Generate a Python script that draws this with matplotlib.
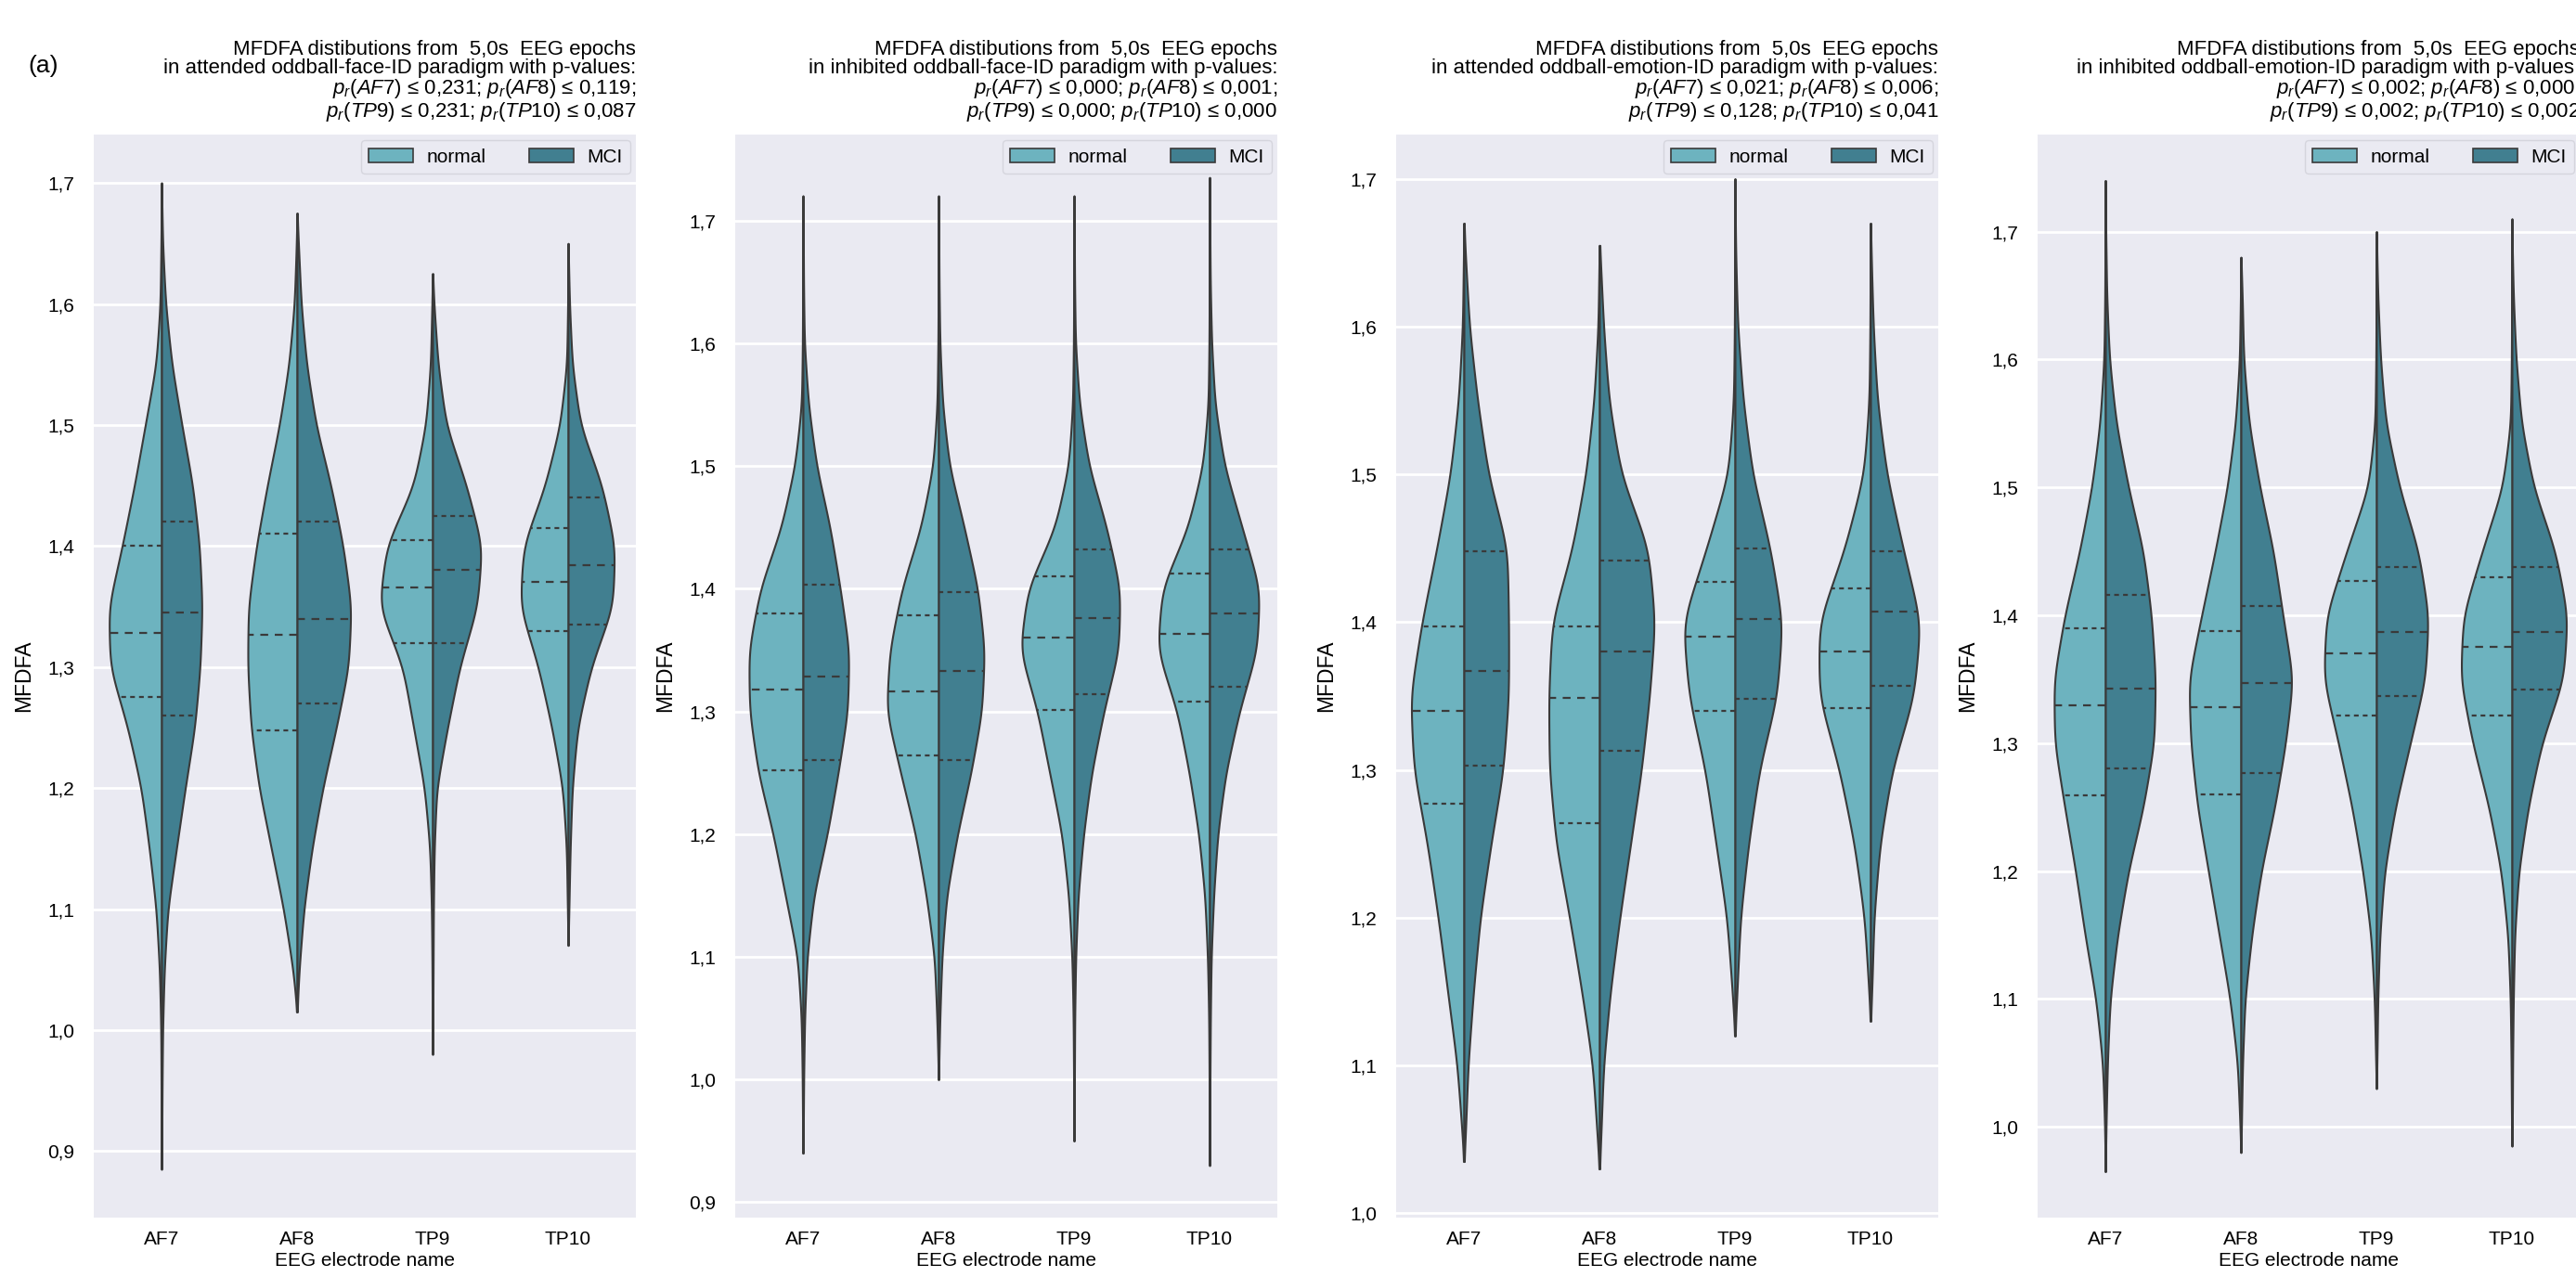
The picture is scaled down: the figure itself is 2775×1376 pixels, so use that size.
import numpy as np
import matplotlib
matplotlib.use('Agg')
import matplotlib.pyplot as plt
from matplotlib.patches import Patch
from matplotlib.ticker import FuncFormatter, MultipleLocator

plt.rcParams['font.family'] = ['Liberation Sans', 'DejaVu Sans']
plt.rcParams['mathtext.fontset'] = 'custom'
plt.rcParams['mathtext.rm'] = 'Liberation Sans'
plt.rcParams['mathtext.it'] = 'Liberation Sans:italic'

# --- data -----------------------------------------------------------------
electrodes = ['AF7', 'AF8', 'TP9', 'TP10']
groups = ['normal', 'MCI']
paradigms = ['attended oddball-face-ID', 'inhibited oddball-face-ID',
             'attended oddball-emotion-ID', 'inhibited oddball-emotion-ID']
pvals = [['0,231', '0,119', '0,231', '0,087'],
         ['0,000', '0,001', '0,000', '0,000'],
         ['0,021', '0,006', '0,128', '0,041'],
         ['0,002', '0,000', '0,002', '0,002']]

# y levels where the half-violin widths were read
levels = [0.90, 0.95, 1.00, 1.05, 1.10, 1.15, 1.20, 1.25, 1.30,
          1.35, 1.40, 1.45, 1.50, 1.55, 1.60, 1.65, 1.70, 1.75]

# half widths (category units) at each level, one row per electrode
wid_a_normal = [[.002, .003, .005, .015, .04, .09, .15, .25, .38, .39, .29, .20, .12, .04, .01, .004, 0, 0],
                [0, 0, 0, .03, .10, .19, .28, .34, .365, .36, .30, .22, .13, .06, .02, .005, 0, 0],
                [0, 0, .002, .004, .008, .02, .06, .14, .22, .395, .34, .14, .05, .015, .005, 0, 0, 0],
                [0, 0, 0, 0, .005, .012, .04, .12, .22, .355, .33, .17, .06, .01, .003, 0, 0, 0]]
wid_a_mci = [[.002, .004, .008, .02, .046, .11, .175, .245, .285, .30, .28, .23, .15, .076, .03, .008, 0, 0],
             [0, 0, 0, .015, .05, .11, .19, .29, .38, .40, .34, .25, .14, .07, .03, .01, 0, 0],
             [0, 0, .002, .004, .006, .012, .03, .11, .20, .33, .365, .25, .10, .04, .01, 0, 0, 0],
             [0, 0, 0, 0, .006, .015, .03, .07, .17, .33, .345, .25, .09, .03, .01, 0, 0, 0]]
wid_b_normal = [[0, .002, .005, .012, .04, .13, .22, .33, .395, .40, .315, .16, .06, .01, .004, .002, .001, 0],
                [0, 0, .003, .012, .03, .09, .17, .28, .385, .36, .27, .13, .04, .01, .004, .002, .001, 0],
                [0, .002, .003, .006, .015, .04, .09, .18, .27, .40, .34, .14, .04, .01, .004, .002, .001, 0],
                [0, .002, .003, .006, .015, .035, .08, .15, .24, .385, .35, .16, .05, .01, .004, .002, .001, 0]]
wid_b_mci = [[0, .002, .005, .012, .03, .08, .18, .26, .33, .34, .275, .20, .10, .04, .01, .004, .002, 0],
             [0, 0, .003, .01, .025, .06, .14, .24, .32, .34, .29, .19, .08, .03, .01, .004, .002, 0],
             [0, .002, .003, .005, .012, .03, .07, .13, .22, .33, .34, .24, .11, .04, .01, .004, .002, 0],
             [0, .002, .003, .006, .012, .03, .06, .12, .22, .35, .37, .24, .11, .04, .015, .005, .002, 0]]
wid_c_normal = [[0, 0, 0, .01, .05, .12, .19, .27, .37, .395, .31, .20, .10, .04, .01, .003, 0, 0],
                [0, 0, 0, .015, .05, .13, .22, .32, .37, .375, .35, .20, .10, .04, .01, .002, 0, 0],
                [0, 0, 0, 0, 0, .02, .06, .14, .22, .34, .385, .21, .05, .01, .004, .002, 0, 0],
                [0, 0, 0, 0, 0, .012, .045, .12, .23, .38, .38, .19, .05, .01, .004, .002, 0, 0]]
wid_c_mci = [[0, 0, 0, .01, .03, .07, .12, .20, .29, .33, .33, .32, .18, .10, .04, .01, 0, 0],
             [0, 0, 0, .01, .03, .08, .15, .23, .31, .37, .41, .36, .16, .07, .03, .005, 0, 0],
             [0, 0, 0, 0, 0, .015, .04, .10, .18, .31, .35, .26, .13, .06, .02, .005, 0, 0],
             [0, 0, 0, 0, 0, .01, .025, .07, .16, .32, .37, .24, .12, .05, .02, .005, 0, 0]]
wid_d_normal = [[0, 0, .005, .02, .07, .15, .22, .30, .375, .38, .30, .19, .10, .04, .01, .004, .002, 0],
                [0, 0, .006, .025, .08, .16, .24, .32, .37, .385, .29, .19, .10, .04, .01, .003, 0, 0],
                [0, 0, 0, .005, .015, .04, .10, .18, .28, .39, .37, .22, .06, .01, .004, .002, 0, 0],
                [0, 0, .003, .006, .012, .03, .08, .17, .29, .38, .36, .22, .07, .01, .004, .002, 0, 0]]
wid_d_mci = [[0, 0, .005, .015, .035, .09, .17, .28, .36, .37, .34, .28, .17, .08, .03, .01, .003, 0],
             [0, 0, .004, .012, .03, .08, .15, .25, .33, .385, .31, .24, .14, .06, .02, .01, 0, 0],
             [0, 0, 0, .004, .01, .025, .06, .14, .25, .36, .385, .31, .17, .07, .03, .01, 0, 0],
             [0, 0, .003, .005, .01, .02, .05, .12, .22, .38, .41, .32, .16, .07, .03, .01, 0, 0]]

# (min, max) of each electrode
ext_a = [(0.885, 1.70), (1.015, 1.675), (0.98, 1.625), (1.07, 1.65)]
ext_b = [(0.94, 1.72), (1.00, 1.72), (0.95, 1.72), (0.93, 1.735)]
ext_c = [(1.035, 1.67), (1.03, 1.655), (1.12, 1.70), (1.13, 1.67)]
ext_d = [(0.965, 1.74), (0.98, 1.68), (1.03, 1.70), (0.985, 1.71)]

# quartiles (q1, median, q3)
q_a_normal = [(1.275, 1.328, 1.40), (1.248, 1.327, 1.41), (1.32, 1.366, 1.405), (1.33, 1.37, 1.415)]
q_a_mci = [(1.26, 1.345, 1.42), (1.27, 1.34, 1.42), (1.32, 1.38, 1.425), (1.335, 1.384, 1.44)]
q_b_normal = [(1.252, 1.318, 1.38), (1.264, 1.316, 1.378), (1.301, 1.36, 1.41), (1.308, 1.363, 1.412)]
q_b_mci = [(1.26, 1.328, 1.403), (1.26, 1.333, 1.397), (1.314, 1.376, 1.432), (1.32, 1.38, 1.432)]
q_c_normal = [(1.277, 1.34, 1.397), (1.264, 1.349, 1.397), (1.34, 1.39, 1.427), (1.342, 1.38, 1.423)]
q_c_mci = [(1.303, 1.367, 1.448), (1.313, 1.38, 1.442), (1.348, 1.402, 1.45), (1.357, 1.407, 1.448)]
q_d_normal = [(1.259, 1.33, 1.39), (1.26, 1.328, 1.388), (1.322, 1.37, 1.427), (1.322, 1.375, 1.43)]
q_d_mci = [(1.28, 1.343, 1.416), (1.277, 1.347, 1.407), (1.337, 1.387, 1.438), (1.342, 1.387, 1.438)]

ylims = [(0.845, 1.74), (0.8875, 1.77), (0.997, 1.73), (0.929, 1.776)]

panels = [(wid_a_normal, wid_a_mci, ext_a, q_a_normal, q_a_mci),
          (wid_b_normal, wid_b_mci, ext_b, q_b_normal, q_b_mci),
          (wid_c_normal, wid_c_mci, ext_c, q_c_normal, q_c_mci),
          (wid_d_normal, wid_d_mci, ext_d, q_d_normal, q_d_mci)]

# --- style ----------------------------------------------------------------
c_normal = '#6db3bf'
c_mci = '#417f90'
edge = '#3a3a3a'
bg = '#EAEAF2'


def profile(widths, lo, hi):
    lv = [lo] + [l for l in levels if lo < l < hi] + [hi]
    wv = [0] + [w for l, w in zip(levels, widths) if lo < l < hi] + [0]
    ys = np.linspace(lo, hi, 800)
    w = np.interp(ys, lv, wv)
    # soften the corners of the read outline
    step = ys[1] - ys[0]
    sig = 0.012 / step
    k = np.arange(-int(4 * sig), int(4 * sig) + 1)
    ker = np.exp(-0.5 * (k / sig) ** 2)
    ker /= ker.sum()
    wp = np.concatenate([np.zeros(len(k) // 2), w, np.zeros(len(k) // 2)])
    w = np.convolve(wp, ker, mode='valid')
    return ys, w


def draw_half(ax, x, widths, ext, quart, color, side):
    ys, w = profile(widths, ext[0], ext[1])
    if side < 0:
        ax.fill_betweenx(ys, x - w, x, facecolor=color, edgecolor=edge, lw=1.5, zorder=2)
    else:
        ax.fill_betweenx(ys, x, x + w, facecolor=color, edgecolor=edge, lw=1.5, zorder=2)
    for i, q in enumerate(quart):
        wq = np.interp(q, ys, w)
        dash = (3.8, 3.2) if i == 1 else (2.3, 2.0)
        ax.plot([x, x + side * wq], [q, q], color=edge, lw=1.6, dashes=dash, zorder=3)


fig = plt.figure(figsize=(27.75, 13.76), dpi=100)
lefts = [101, 792, 1504, 2195]
W, H = 2775, 1376

for p, (wn, wm, ext, qn, qm) in enumerate(panels):
    ax = fig.add_axes([lefts[p] / W, 1 - 1312 / H, 584 / W, (1312 - 145) / H])
    ax.set_facecolor(bg)
    for s in ax.spines.values():
        s.set_visible(False)
    ax.set_axisbelow(True)
    ax.grid(axis='y', color='white', lw=2)
    for i in range(len(electrodes)):
        draw_half(ax, i, wn[i], ext[i], qn[i], c_normal, -1)
        draw_half(ax, i, wm[i], ext[i], qm[i], c_mci, 1)
    ax.set_xlim(-0.5, 3.5)
    ax.set_ylim(*ylims[p])
    ax.set_xticks(range(len(electrodes)))
    ax.set_xticklabels(electrodes)
    ax.yaxis.set_major_locator(MultipleLocator(0.1))
    ax.yaxis.set_major_formatter(FuncFormatter(lambda v, pos: f'{v:.1f}'.replace('.', ',')))
    ax.tick_params(axis='y', length=0, labelsize=15, pad=15)
    ax.tick_params(axis='x', length=0, labelsize=15, pad=10)
    ax.set_ylabel('MFDFA', fontsize=16.5)
    ax.yaxis.set_label_coords(-0.11, 0.5)
    ax.set_xlabel('EEG electrode name', fontsize=15)
    ax.xaxis.set_label_coords(0.5, -0.032)

    pv = pvals[p]
    title = ('MFDFA distibutions from  5,0s  EEG epochs\n'
             f'in {paradigms[p]} paradigm with p-values:\n'
             f'$p_r(AF7)$ \u2264 {pv[0]}; $p_r(AF8)$ \u2264 {pv[1]};\n'
             f'$p_r(TP9)$ \u2264 {pv[2]}; $p_r(TP10)$ \u2264 {pv[3]}')
    ax.set_title(title, loc='right', fontsize=16, pad=14, linespacing=0.95)

    handles = [Patch(facecolor=c_normal, edgecolor=edge, lw=1.2),
               Patch(facecolor=c_mci, edgecolor=edge, lw=1.2)]
    ax.legend(handles, groups, loc='upper right', ncol=2, fontsize=15,
              handlelength=2.3, handleheight=0.75, columnspacing=2.2,
              handletextpad=0.7, borderaxespad=0.3, frameon=True,
              facecolor=bg, edgecolor='#d0d0d8', framealpha=0.8)

fig.text(47 / W, 1 - 71 / H, '(a)', fontsize=19, ha='center', va='center')

fig.savefig('out.png', dpi=100)
